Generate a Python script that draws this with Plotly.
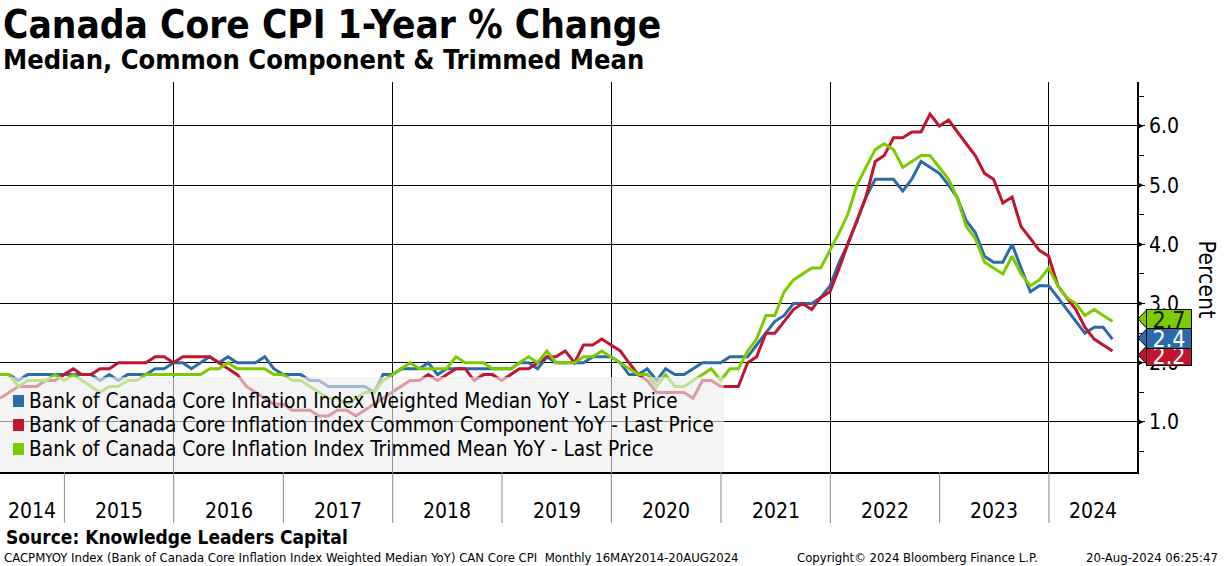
import pandas as pd
import plotly.graph_objects as go

# ---------------- data ----------------
start_month = "2014-05-31"
n_months = 123
dates = pd.date_range(start_month, periods=n_months, freq="ME")

median = [1.8, 1.8, 1.7, 1.8, 1.8, 1.8, 1.8, 1.8, 1.8, 1.8, 1.8, 1.7, 1.8, 1.7, 1.8, 1.8,
          1.8, 1.9, 1.9, 2.0, 2.0, 1.9, 2.0, 2.1, 2.0, 2.1, 2.0, 2.0, 2.0, 2.1, 1.9, 1.8,
          1.8, 1.8, 1.7, 1.7, 1.6, 1.6, 1.6, 1.6, 1.6, 1.5, 1.8, 1.8, 1.9, 1.9, 1.9, 2.0,
          1.8, 1.9, 1.9, 1.9, 1.9, 1.9, 1.9, 1.9, 1.9, 2.0, 2.0, 1.9, 2.1, 2.0, 2.0, 2.0,
          2.0, 2.1, 2.1, 2.1, 2.0, 1.8, 1.8, 1.9, 1.7, 1.9, 1.8, 1.8, 1.9, 2.0, 2.0, 2.0,
          2.1, 2.1, 2.1, 2.3, 2.5, 2.7, 2.8, 3.0, 3.0, 3.0, 3.1, 3.3, 3.7, 4.0, 4.4, 4.8,
          5.1, 5.1, 5.1, 4.9, 5.1, 5.4, 5.3, 5.2, 5.0, 4.8, 4.4, 4.2, 3.8, 3.7, 3.7, 4.0,
          3.6, 3.2, 3.3, 3.3, 3.1, 2.9, 2.7, 2.5, 2.6, 2.6, 2.4]

common = [1.4, 1.5, 1.6, 1.6, 1.6, 1.7, 1.7, 1.8, 1.9, 1.8, 1.8, 1.9, 1.9, 2.0, 2.0, 2.0,
          2.0, 2.1, 2.1, 2.0, 2.1, 2.1, 2.1, 2.1, 2.0, 1.9, 1.8, 1.6, 1.5, 1.4, 1.3, 1.3,
          1.2, 1.2, 1.2, 1.1, 1.1, 1.2, 1.2, 1.1, 1.2, 1.3, 1.4, 1.5, 1.6, 1.7, 1.7, 1.8,
          1.7, 1.8, 1.9, 1.9, 1.7, 1.8, 1.8, 1.7, 1.8, 1.9, 1.9, 2.0, 2.1, 2.1, 2.2, 2.0,
          2.3, 2.3, 2.4, 2.3, 2.2, 2.0, 1.8, 1.7, 1.5, 1.5, 1.5, 1.5, 1.4, 1.7, 1.7, 1.6,
          1.6, 1.6, 2.0, 2.1, 2.5, 2.5, 2.7, 2.9, 3.0, 2.9, 3.1, 3.2, 3.6, 4.0, 4.4, 4.8,
          5.4, 5.5, 5.8, 5.8, 5.9, 5.9, 6.2, 6.0, 6.1, 5.9, 5.7, 5.5, 5.2, 5.1, 4.7, 4.8,
          4.3, 4.1, 3.9, 3.8, 3.3, 3.1, 2.9, 2.6, 2.4, 2.3, 2.2]

trim = [1.8, 1.8, 1.6, 1.7, 1.7, 1.7, 1.8, 1.7, 1.8, 1.7, 1.6, 1.5, 1.6, 1.6, 1.7, 1.7,
        1.8, 1.8, 1.8, 1.8, 1.8, 1.8, 1.8, 1.9, 1.9, 2.0, 1.9, 1.9, 1.9, 1.9, 1.8, 1.8,
        1.7, 1.7, 1.6, 1.5, 1.4, 1.4, 1.3, 1.4, 1.5, 1.5, 1.7, 1.8, 1.9, 2.0, 1.9, 1.9,
        1.9, 1.9, 2.1, 2.0, 2.0, 2.0, 1.9, 1.9, 1.9, 2.0, 2.1, 2.0, 2.2, 2.0, 2.0, 2.0,
        2.1, 2.1, 2.2, 2.1, 2.0, 1.9, 1.8, 1.8, 1.6, 1.8, 1.6, 1.6, 1.7, 1.8, 1.9, 1.7,
        1.9, 1.9, 2.2, 2.4, 2.8, 2.8, 3.2, 3.4, 3.5, 3.6, 3.6, 3.9, 4.2, 4.5, 5.0, 5.3,
        5.6, 5.7, 5.6, 5.3, 5.4, 5.5, 5.5, 5.3, 5.1, 4.8, 4.3, 4.1, 3.7, 3.6, 3.5, 3.8,
        3.5, 3.3, 3.4, 3.6, 3.3, 3.1, 3.0, 2.8, 2.9, 2.8, 2.7]

series_names = [
    "Bank of Canada Core Inflation Index Weighted Median YoY - Last Price",
    "Bank of Canada Core Inflation Index Common Component YoY - Last Price",
    "Bank of Canada Core Inflation Index Trimmed Mean YoY - Last Price",
]
series_values = [median, common, trim]
last_labels = ["2.4", "2.2", "2.7"]
years = list(range(2014, 2025))
y_ticks = [1, 2, 3, 4, 5, 6]

# ---------------- styling ----------------
colors = ["#2C6BAA", "#C1152F", "#7CCB00"]
FONT = "DejaVu Sans Condensed, DejaVu Sans, sans-serif"
W, H = 1224, 566
L, R, T, B = 0, 1224 - 1137.5, 82, 566 - 472
PW, PH = W - L - R, H - T - B
x_start, x_end = pd.Timestamp("2014-05-31"), pd.Timestamp("2024-10-21")
y_min, y_max = 0.155, 6.743


def px_x(px):
    return (px - L) / PW


def px_y(py):
    return (H - B - py) / PH


fig = go.Figure()
for name, vals, col in zip(series_names, series_values, colors):
    fig.add_trace(go.Scatter(x=dates, y=vals, mode="lines", name=name,
                             line=dict(color=col, width=3), showlegend=False,
                             hoverinfo="skip"))

shapes = []
annotations = []

# legend overlay (semi transparent, above lines)
shapes.append(dict(type="rect", xref="paper", yref="paper", x0=0, x1=px_x(724),
                   y0=0, y1=px_y(377), fillcolor="rgba(238,238,238,0.62)",
                   line=dict(width=0), layer="above"))

legend_rows = [401, 425, 449]
for name, col, py in zip(series_names, colors, legend_rows):
    shapes.append(dict(type="rect", xref="paper", yref="paper",
                       x0=px_x(13), x1=px_x(24), y0=px_y(py + 6), y1=px_y(py - 6),
                       fillcolor=col, line=dict(width=0), layer="above"))
    annotations.append(dict(xref="paper", yref="paper", x=px_x(27), y=px_y(py),
                            xanchor="left", yanchor="middle", showarrow=False,
                            text=name, font=dict(family=FONT, size=20.7, color="black")))

# arrowheads at the integer ticks on the right axis
for v in y_ticks:
    shapes.append(dict(type="path", xref="paper", yref="y",
                       path=f"M 1,{v - 0.055} L {px_x(1144)},{v} L 1,{v + 0.055} Z",
                       fillcolor="black", line=dict(width=0), layer="above"))

# year separators below the axis and year labels
for yr in years:
    jan1 = pd.Timestamp(f"{yr}-01-01")
    if x_start < jan1 < x_end:
        shapes.append(dict(type="line", xref="x", yref="paper", x0=jan1, x1=jan1,
                           y0=0, y1=px_y(523), line=dict(color="#8a8a8a", width=1)))
    a = max(jan1, x_start)
    b = min(pd.Timestamp(f"{yr + 1}-01-01"), x_end)
    mid = a + (b - a) / 2
    annotations.append(dict(xref="x", yref="paper", x=mid, y=px_y(511),
                            xanchor="center", yanchor="middle", showarrow=False,
                            text=str(yr), font=dict(family=FONT, size=21, color="black")))

# last-value boxes on the right
box_order = [2, 1, 0]  # green, red, blue (blue on top)
box_centers = {0: 338, 1: 355, 2: 319}
text_colors = {0: "white", 1: "white", 2: "#1a1a1a"}
for idx in box_order:
    cy = box_centers[idx]
    top, bot = cy - 10, cy + 10
    shapes.append(dict(type="path", xref="paper", yref="paper",
                       path=(f"M {px_x(1148)},{px_y(top)} L {px_x(1138.5)},{px_y(cy)} "
                             f"L {px_x(1148)},{px_y(bot)} Z"),
                       fillcolor=colors[idx], line=dict(color="black", width=1),
                       layer="above"))
for idx in box_order:
    cy = box_centers[idx]
    annotations.append(dict(xref="paper", yref="paper", x=px_x(1147), y=px_y(cy),
                            xanchor="left", yanchor="middle", showarrow=False,
                            text=last_labels[idx], width=44, height=19, borderpad=0,
                            bgcolor=colors[idx], bordercolor="black", borderwidth=1,
                            align="center",
                            font=dict(family=FONT, size=23, color=text_colors[idx])))

# axis title
annotations.append(dict(xref="paper", yref="paper", x=px_x(1208), y=px_y(280),
                        xanchor="center", yanchor="middle", showarrow=False,
                        text="Percent", textangle=90,
                        font=dict(family=FONT, size=23, color="black")))

# titles and footer
annotations += [
    dict(xref="paper", yref="paper", x=px_x(1), y=px_y(24), xanchor="left",
         yanchor="middle", showarrow=False, text="<b>Canada Core CPI 1-Year % Change</b>",
         font=dict(family=FONT, size=38.5, color="black")),
    dict(xref="paper", yref="paper", x=px_x(1), y=px_y(60), xanchor="left",
         yanchor="middle", showarrow=False,
         text="<b>Median, Common Component &amp; Trimmed Mean</b>",
         font=dict(family=FONT, size=27, color="black")),
    dict(xref="paper", yref="paper", x=px_x(4), y=px_y(537), xanchor="left",
         yanchor="middle", showarrow=False, text="<b>Source: Knowledge Leaders Capital</b>",
         font=dict(family=FONT, size=19, color="black")),
    dict(xref="paper", yref="paper", x=px_x(2), y=px_y(557), xanchor="left",
         yanchor="middle", showarrow=False,
         text=("CACPMYOY Index (Bank of Canada Core Inflation Index Weighted Median YoY) "
               "CAN Core CPI  Monthly 16MAY2014-20AUG2024"),
         font=dict(family=FONT, size=13, color="black")),
    dict(xref="paper", yref="paper", x=px_x(795), y=px_y(557), xanchor="left",
         yanchor="middle", showarrow=False,
         text="Copyright\u00a9 2024 Bloomberg Finance L.P.",
         font=dict(family=FONT, size=13, color="black")),
    dict(xref="paper", yref="paper", x=px_x(1221), y=px_y(557), xanchor="right",
         yanchor="middle", showarrow=False, text="20-Aug-2024 06:25:47",
         font=dict(family=FONT, size=13, color="black")),
]

fig.update_layout(
    width=W, height=H,
    margin=dict(l=L, r=R, t=T, b=B, pad=0),
    paper_bgcolor="white", plot_bgcolor="white",
    showlegend=False,
    shapes=shapes, annotations=annotations,
    xaxis=dict(type="date", range=[x_start, x_end], showticklabels=False, ticks="",
               tickvals=[pd.Timestamp(f"{y}-01-01") for y in (2016, 2018, 2020, 2022, 2024)],
               showgrid=True, gridcolor="black", gridwidth=1, zeroline=False,
               showline=True, linecolor="black", linewidth=1.5, fixedrange=True),
    yaxis=dict(side="right", range=[y_min, y_max], tickvals=y_ticks,
               ticktext=[f"{v:.1f}" for v in y_ticks],
               showgrid=True, gridcolor="black", gridwidth=1, zeroline=False,
               ticks="outside", ticklen=6, tickcolor="black",
               minor=dict(dtick=0.5, tick0=0.5, ticks="outside", ticklen=5,
                          tickcolor="black", showgrid=False),
               showline=True, linecolor="black", linewidth=1.5,
               tickfont=dict(family=FONT, size=21, color="black"), fixedrange=True),
)

fig.write_html("out.html", config={"displayModeBar": False},
               post_script="document.body.style.margin='0';document.body.style.padding='0';"
                           "document.documentElement.style.overflow='hidden';")
